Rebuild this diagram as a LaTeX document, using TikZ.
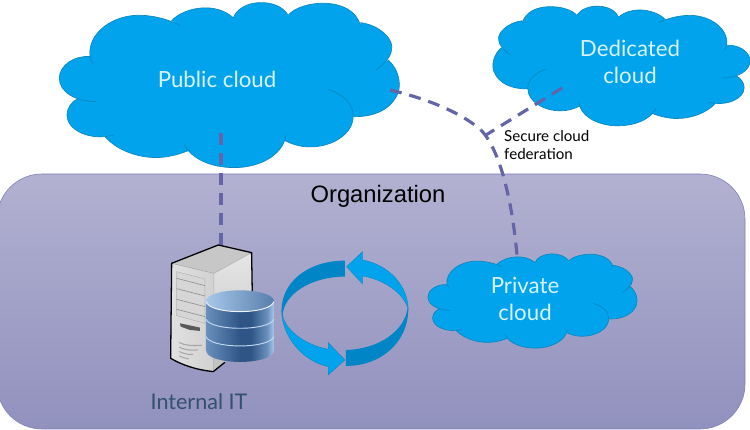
\documentclass[tikz,border=0pt]{standalone}
\usepackage{fontspec}
\setmainfont{Lato}
\newfontfamily\arialfont{Liberation Sans}
\usetikzlibrary{arrows.meta,positioning}

\definecolor{cloudblue}{HTML}{00A3EC}
\definecolor{cloudedge}{HTML}{0B86BE}
\definecolor{ribbondark}{HTML}{0086C6}
\definecolor{linkcol}{HTML}{6464A9}
\definecolor{orgtop}{HTML}{B2B1D1}
\definecolor{orgbottom}{HTML}{9191BE}
\definecolor{orgedge}{HTML}{7F7FBB}
\definecolor{cloudtext}{HTML}{D9F3FF}
\definecolor{itlabel}{HTML}{33506F}
\definecolor{dbdark}{HTML}{2F5587}
\definecolor{dbmid}{HTML}{6A90BC}
\definecolor{dblight}{HTML}{A8C8EA}
\pgfdeclarehorizontalshading{dbbody}{100bp}{color(0bp)=(dbmid); color(25bp)=(dbmid); color(50bp)=(dbdark); color(58bp)=(dbdark); color(70bp)=(dbmid); color(75bp)=(dblight); color(100bp)=(dblight)}

% #1 is -- for the filled outline, empty for the stroked lobes with their tails
\newcommand{\cloudlobes}[1]{(270,170) .. controls (262,95) and (345,42) .. (425,46)
  .. controls (465,47) and (510,60) .. (540,76)
  #1 (515,62) .. controls (555,20) and (650,5) .. (702,55)
  #1 (700,55) .. controls (720,-5) and (835,-8) .. (865,46)
  #1 (865,46) .. controls (900,0) and (1060,-15) .. (1082,78)
  #1 (1082,68) .. controls (1140,75) and (1185,120) .. (1175,150)
  .. controls (1175,170) and (1150,195) .. (1128,210)
  #1 (1165,180) .. controls (1195,205) and (1205,250) .. (1195,278)
  .. controls (1175,330) and (1120,352) .. (1060,350)
  #1 (985,268) .. controls (1035,285) and (1062,315) .. (1060,350)
  .. controls (1060,400) and (1000,442) .. (928,441)
  .. controls (900,441) and (875,432) .. (855,422)
  #1 (858,405) .. controls (850,470) and (770,505) .. (700,503)
  .. controls (640,503) and (575,480) .. (552,432)
  #1 (570,450) .. controls (530,468) and (490,473) .. (470,473)
  .. controls (410,473) and (350,450) .. (315,410)
  #1 (343,405) .. controls (270,425) and (200,390) .. (201,345)
  .. controls (201,325) and (215,305) .. (232,297)
  #1 (290,305) .. controls (225,305) and (178,275) .. (178,235)
  .. controls (178,195) and (225,165) .. (272,170)
  .. controls (272,178) and (275,185) .. (280,190)}

\tikzset{
  cloudshape/.pic={
    \begin{scope}[x=0.01cm,y=-0.01cm]
      \fill[cloudblue] \cloudlobes{--} -- cycle;
      \draw[cloudedge,line width=0.55pt] \cloudlobes{};
    \end{scope}
  }
}

\begin{document}
\begin{tikzpicture}[x=0.03cm,y=-0.03cm,
  link/.style={linkcol,line width=2.7pt,dash pattern=on 10.2pt off 6.8pt},
  cloudlabel/.style={text=cloudtext,font=\fontsize{19}{22.6}\selectfont,align=center,inner sep=0pt},
  serveredge/.style={draw=black,line width=1.1pt,line join=round},
  ventline/.style={draw=black!45,line width=0.5pt},
  dbline/.style={draw=dblight!70!white,line width=0.8pt}]
  \useasboundingbox (0,0) rectangle (750,430);

  \coordinate (PubS) at (221,133);
  \coordinate (PubE) at (390,90);
  \coordinate (DedW) at (562,88);
  \coordinate (Fed) at (481,130);
  \coordinate (FedT) at (486,135);
  \coordinate (PrivN) at (517,255);
  \coordinate (SrvN) at (221,245);

  \shade[top color=orgtop,bottom color=orgbottom,draw=orgedge,line width=0.5pt,rounded corners=1.35cm]
    (-3,174) rectangle (745,429);

  \pic[shift={(0,0)}] {cloudshape};
  \pic[shift={(794.8,4.3)},xscale=-0.756,yscale=0.725] {cloudshape};
  \pic[shift={(391.5,252.4)},xscale=0.615,yscale=0.571] {cloudshape};

  \draw[link] (PubS)--(SrvN);
  \draw[link] (PubE) .. controls (420,97) and (458,110) .. (Fed);
  \draw[link] (Fed) .. controls (500,150) and (512,200) .. (PrivN);
  \draw[link] (DedW)--(FedT);

  \node[cloudlabel] (public) at (217,79) {Public cloud};
  \node[cloudlabel] (dedicated) at (630,62) {Dedicated\\cloud};
  \node[cloudlabel] (private) at (525,299) {Private\\cloud};
  \node[font=\fontsize{12.9}{15}\selectfont,align=left,inner sep=0pt,anchor=west] (federation) at (504,145) {Secure cloud\\federation};
  \node[font=\arialfont\fontsize{20.3}{24}\selectfont,text=black,inner sep=0pt] (org) at (378,196) {Organization};
  \node[font=\fontsize{18.4}{22}\selectfont,text=itlabel,inner sep=0pt] (internal) at (199,402) {Internal IT};

  % server, database and ribbon in 3x units
  \begin{scope}[shift={(140,230)},x=0.01cm,y=-0.01cm]
    \fill[left color=white!88!black,right color=white!82!black] (95,100)--(222,130)--(220,425) .. controls (170,420) and (125,405) .. (92,385)--cycle;
    \fill[black!22] (95,100)--(235,45)--(335,68)--(222,130)--cycle;
    \shade[top color=white!90!black,bottom color=white!75!black] (222,130)--(335,68)--(337,300)--(255,397)--(220,425)--cycle;
    \draw[serveredge,draw=white!70!black,line width=0.5pt] (222,130)--(220,425);
    \draw[serveredge,draw=white!70!black,line width=0.5pt] (95,100)--(222,130)--(335,68);
    \draw[serveredge] (337,190)--(335,68)--(235,45)--(95,100)--(92,385) .. controls (125,405) and (170,420) .. (220,425)--(255,397);
    \fill[white!84!black,draw=black!30,line width=0.4pt] (110,125)--(195,147)--(195,280)--(110,257)--cycle;
    \foreach \y in {145,176,208,238}
      \draw[ventline] (110,\y)--(195,\y+22);
    \fill[black!65] (120,280)--(180,293)--(180,303)--(150,300)--(122,290)--cycle;
    \foreach \y/\w in {338/68,352/55,365/42,378/28}
      \draw[black!35,line width=0.9pt] (118,\y) .. controls (135,\y+8) and (150,\y+10) .. (118+\w,\y+8);

    \shade[shading=dbbody] (198,215)--(198,360) .. controls (198,385) and (250,396) .. (300,396) .. controls (350,396) and (402,385) .. (402,360)--(402,215)--cycle;
    \shade[left color=dblight,right color=dbmid!70!dbdark] (300,213) ellipse [x radius=102,y radius=32];
    \draw[dbline,draw=white!80!dblight] (198,215) .. controls (205,235) and (250,245) .. (300,245) .. controls (350,245) and (395,235) .. (402,215);
    \draw[dbline] (198,268) .. controls (205,285) and (250,295) .. (300,295) .. controls (350,295) and (395,285) .. (402,268);
    \draw[dbline] (198,320) .. controls (205,338) and (250,348) .. (300,348) .. controls (350,348) and (395,338) .. (402,320);

    \fill[ribbondark] (615,92) .. controls (500,92) and (425,160) .. (425,240) -- (428,255) .. controls (432,195) and (510,140) .. (615,140)--cycle;
    \fill[ribbondark] (618,408) .. controls (730,408) and (805,330) .. (805,240) -- (803,235) .. controls (795,300) and (720,358) .. (618,360)--cycle;
    \fill[cloudblue,draw=cloudedge,line width=0.3pt] (425,240) .. controls (425,320) and (490,395) .. (565,410)--(565,435)--(615,390)--(565,338)--(565,358) .. controls (495,345) and (435,300) .. (428,255)--cycle;
    \fill[cloudblue,draw=cloudedge,line width=0.3pt] (805,240) .. controls (805,170) and (750,105) .. (668,90)--(668,65)--(620,110)--(668,162)--(668,138) .. controls (730,148) and (795,190) .. (805,240)--cycle;
  \end{scope}
\end{tikzpicture}
\end{document}
